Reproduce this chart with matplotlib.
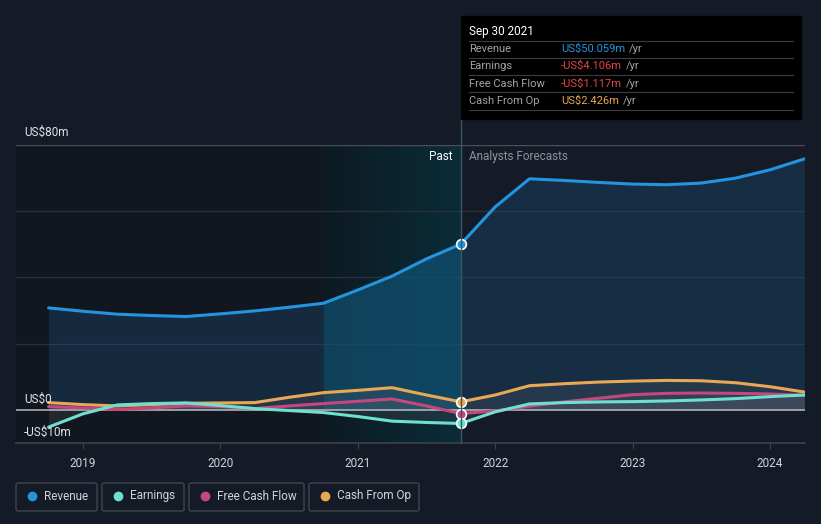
import matplotlib.pyplot as plt
import numpy as np
from matplotlib.colors import LinearSegmentedColormap
from matplotlib.patches import Rectangle, FancyBboxPatch
from matplotlib.lines import Line2D

plt.rcParams["font.family"] = ["Roboto", "DejaVu Sans"]

# quarterly dates (decimal years), past up to Sep 30 2021 then analyst forecasts
dates = [2018.75, 2019.0, 2019.25, 2019.5, 2019.75, 2020.0, 2020.25, 2020.5,
         2020.75, 2021.0, 2021.25, 2021.5, 2021.75,
         2022.0, 2022.25, 2022.5, 2022.75, 2023.0, 2023.25, 2023.5,
         2023.75, 2024.0, 2024.25]
revenue = [30.8, 29.8, 28.9, 28.5, 28.2, 29.0, 29.9, 31.0,
           32.2, 36.2, 40.4, 45.6, 50.059,
           61.3, 69.8, 69.3, 68.7, 68.2, 68.0, 68.5, 70.0, 72.5, 75.8]
earnings = [-5.2, -1.2, 1.5, 1.9, 2.1, 1.3, 0.4, -0.2,
            -0.8, -2.0, -3.4, -3.8, -4.106,
            -0.6, 1.8, 2.2, 2.4, 2.5, 2.7, 3.0, 3.4, 4.0, 4.5]
free_cash_flow = [1.0, 0.6, 0.1, 0.6, 1.2, 1.0, 0.4, 1.2,
                  1.9, 2.6, 3.3, 1.2, -1.117,
                  -0.3, 1.1, 2.4, 3.5, 4.6, 5.0, 5.1, 5.0, 4.8, 4.4]
cash_from_op = [2.2, 1.6, 1.2, 1.6, 2.0, 2.1, 2.2, 3.8,
                5.2, 5.9, 6.7, 4.5, 2.426,
                4.5, 7.3, 7.9, 8.4, 8.7, 8.9, 8.8, 8.2, 7.0, 5.4]
years = [2019, 2020, 2021, 2022, 2023, 2024]
now = 2021.75
past_start = 2020.75

BG = "#151b26"
C_REV = "#2394df"
C_EARN = "#6ee0d0"
C_FCF = "#c4487f"
C_CFO = "#e8a855"

W, H = 821, 524
fig = plt.figure(figsize=(W / 100, H / 100), dpi=100, facecolor=BG)
ax = fig.add_axes([16 / W, (H - 443) / H, 789 / W, 298 / H])
ax.set_facecolor("#12171f")
ax.set_xlim(2018.513, 2024.255)
ax.set_ylim(-10, 80)

# forecast side background
ax.axvspan(now, 2024.255, color=BG, zorder=0, lw=0)
# past highlight gradient
grad = np.linspace(0, 1, 256).reshape(1, -1)
cmap = LinearSegmentedColormap.from_list("g", ["#0d1a22", "#0a2c38"])
ax.imshow(grad, extent=[past_start, now, -10, 80], aspect="auto", cmap=cmap,
          zorder=0.5, interpolation="bicubic")

for yv in [20, 40, 60]:
    ax.axhline(yv, color="#2a313c", lw=0.9, zorder=1)
ax.axhline(80, color="#4a505a", lw=1, zorder=1)
ax.axhline(0, color="#b8bcc2", lw=1.1, zorder=4)

d = np.array(dates)
rev = np.array(revenue)
past = d <= now
fut = d >= now
ax.fill_between(d[past], rev[past], 0, color="#1b4f7a", alpha=0.35, lw=0, zorder=2)
ax.fill_between(d[fut], rev[fut], 0, color="#1b4f7a", alpha=0.35, lw=0, zorder=2)
sel = (d >= past_start) & past
ax.fill_between(d[sel], rev[sel], 0, color="#0e5a7a", alpha=0.45, lw=0, zorder=2)
for ys in [earnings, free_cash_flow, cash_from_op]:
    ax.fill_between(d, ys, 0, color="#6a6f78", alpha=0.18, lw=0, zorder=2.5)

idx = dates.index(now)
for ys, c in [(cash_from_op, C_CFO), (free_cash_flow, C_FCF), (earnings, C_EARN), (revenue, C_REV)]:
    ax.plot(d, ys, color=c, lw=2.2, zorder=5, solid_capstyle="round")
    ax.plot(now, ys[idx], "o", ms=7, color=c, mec="white", mew=1.2, zorder=6)

ax.text(now - 0.06, 76.5, "Past", color="white", fontsize=8.5, ha="right", va="center", zorder=7)
ax.text(now + 0.06, 76.5, "Analysts Forecasts", color="#8e939b", fontsize=8.5,
        ha="left", va="center", zorder=7)

for s in ax.spines.values():
    s.set_visible(False)
ax.axhline(-10, color="#3c424b", lw=1.2, zorder=6, clip_on=False)
ax.set_yticks([])
ax.set_xticks(years)
ax.set_xticklabels([str(y) for y in years], color="#d0d3d8", fontsize=8.5)
ax.tick_params(axis="x", length=4, color="#3c424b", pad=6)

# y labels in figure coords
fig.text(24 / W, 1 - 132 / H, "US$80m", color="#e0e3e8", fontsize=8.5, va="center")
fig.text(24 / W, 1 - 399 / H, "US$0", color="#e0e3e8", fontsize=8.5, va="center")
fig.text(24 / W, 1 - 432 / H, "-US$10m", color="#e0e3e8", fontsize=8.5, va="center")

# vertical "now" line
fig.add_artist(Line2D([461 / W, 461 / W], [1 - 16 / H, 1 - 443 / H], color="#3d5560", lw=1, zorder=8))

# tooltip
fig.add_artist(Rectangle((461 / W, 1 - 119 / H), 340 / W, 103 / H, color="black", zorder=9))
fig.text(469 / W, 1 - 31 / H, "Sep 30 2021", color="white", fontsize=8.5, va="center", zorder=10)
rows = [("Revenue", "US$50.059m", C_REV), ("Earnings", "-US$4.106m", "#e84545"),
        ("Free Cash Flow", "-US$1.117m", "#e84545"), ("Cash From Op", "US$2.426m", C_CFO)]
fig.canvas.draw()
for i, (lab, val, c) in enumerate(rows):
    yy = 1 - (49 + i * 17.3) / H
    fig.text(469 / W, yy, lab, color="#a0a4aa", fontsize=8, va="center", zorder=10)
    t = fig.text(561 / W, yy, val, color=c, fontsize=8, va="center", zorder=10)
    bb = t.get_window_extent(renderer=fig.canvas.get_renderer())
    fig.text(bb.x1 / W + 4 / W, yy, "/yr", color="#a0a4aa", fontsize=8, va="center", zorder=10)
for i in range(5):
    yl = 1 - (40.5 + i * 17.3) / H
    fig.add_artist(Line2D([469 / W, 793 / W], [yl, yl], color="#3a3d42", lw=0.8, zorder=10))

# legend
items = [("Revenue", C_REV, 16, 97), ("Earnings", C_EARN, 102, 184),
         ("Free Cash Flow", C_FCF, 189, 304), ("Cash From Op", C_CFO, 309, 419)]
for lab, c, x0, x1 in items:
    fig.add_artist(FancyBboxPatch((x0 / W, 1 - 511 / H), (x1 - x0) / W, 28 / H,
                                  boxstyle="round,pad=0,rounding_size=0.003",
                                  fc="none", ec="#3f444c", lw=1))
    fig.add_artist(Line2D([(x0 + 16) / W], [1 - 496 / H], marker="o", ms=6, color=c, lw=0))
    fig.text((x0 + 28) / W, 1 - 496 / H, lab, color="#d0d3d8", fontsize=8.5, va="center")

fig.savefig("out.png", dpi=100, facecolor=BG)
